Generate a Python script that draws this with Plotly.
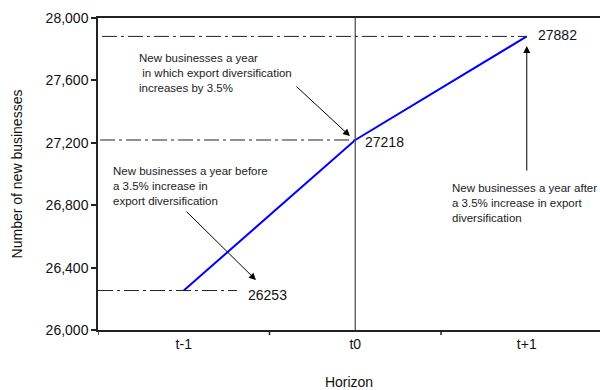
import plotly.graph_objects as go

# Impulse response: new businesses per year around a 3.5% rise in export diversification
horizon = ["t-1", "t0", "t+1"]
new_businesses = [26253, 27218, 27882]
y_tick_values = [26000, 26400, 26800, 27200, 27600, 28000]

note_texts = [
    "New businesses a year<br> in which export diversification<br>increases by 3.5%",
    "New businesses a year before<br>a 3.5% increase in<br>export diversification",
    "New businesses a year after<br>a 3.5% increase in export<br>diversification",
]
# top-left anchor of each note (category index, value)
note_x = [-0.273, -0.424, 1.555]
note_y = [27792, 27068, 26960]

# arrow tips (category index, value) and tail offsets in pixels
arrow_x = [0.969, 0.421, 2.0]
arrow_y = [27243, 26320, 27820]
arrow_ax = [-55, -71, 0]
arrow_ay = [-51, -70, 126]

# how far each value guide extends (category index) and label offsets in pixels
guide_start = [-0.5, -0.488, -0.477]
label_xshift = [62, 8, 9]
label_yshift = [-4, -2, 1]

FONT = "Liberation Sans, Arial, sans-serif"
AXIS_COLOR = "#222222"
DASH = "15px,4px,3px,4px"

fig = go.Figure()

fig.add_trace(go.Scatter(
    x=list(range(len(horizon))),
    y=new_businesses,
    mode="lines",
    line=dict(color="#0000FF", width=2),
    hoverinfo="skip",
    showlegend=False,
))

shapes = []
# vertical reference at t0
shapes.append(dict(type="line", xref="x", yref="y", x0=1, x1=1,
                   y0=y_tick_values[0], y1=y_tick_values[-1],
                   line=dict(color="#555555", width=1.3)))
# dash-dot guides from the y axis to each value
for i, v in enumerate(new_businesses):
    end = 0.31 if i == 0 else i
    shapes.append(dict(type="line", xref="x", yref="y",
                       x0=guide_start[i], x1=end, y0=v, y1=v,
                       line=dict(color="#222222", width=1, dash=DASH)))

annotations = []
for i, v in enumerate(new_businesses):
    annotations.append(dict(
        x=i, y=v, xref="x", yref="y", text=str(v), showarrow=False,
        xanchor="left", yanchor="middle", xshift=label_xshift[i], yshift=label_yshift[i],
        font=dict(family=FONT, size=14, color="#111111"),
    ))
for t, x, y in zip(note_texts, note_x, note_y):
    annotations.append(dict(
        x=x, y=y, xref="x", yref="y", text=t, showarrow=False,
        xanchor="left", yanchor="top", align="left",
        font=dict(family=FONT, size=11.5, color="#222222"),
    ))
for x, y, ax, ay in zip(arrow_x, arrow_y, arrow_ax, arrow_ay):
    annotations.append(dict(
        x=x, y=y, xref="x", yref="y", text="", showarrow=True,
        ax=ax, ay=ay, arrowhead=2, arrowsize=1.4, arrowwidth=1,
        arrowcolor="#000000", standoff=0, startstandoff=0,
    ))

fig.update_layout(
    width=600, height=390,
    margin=dict(l=98, r=0, t=18, b=60),
    paper_bgcolor="white", plot_bgcolor="white",
    font=dict(family=FONT, size=14, color="#111111"),
    shapes=shapes,
    annotations=annotations,
    showlegend=False,
)

fig.update_xaxes(
    tickmode="array",
    tickvals=list(range(len(horizon))),
    ticktext=horizon,
    range=[-0.5, 2.427],
    showgrid=False, zeroline=False,
    showline=True, linecolor=AXIS_COLOR, linewidth=1.5, mirror=True,
    ticks="",
    title=dict(text="Horizon", standoff=27, font=dict(size=14)),
    tickfont=dict(size=14),
    automargin=False,
)
fig.update_yaxes(
    range=[y_tick_values[0], y_tick_values[-1]],
    tickvals=y_tick_values,
    tickformat=",",
    showgrid=False, zeroline=False,
    showline=True, linecolor=AXIS_COLOR, linewidth=1.5,
    ticks="outside", ticklen=5, tickcolor=AXIS_COLOR, tickwidth=1.5,
    title=dict(text="Number of new businesses", standoff=20, font=dict(size=14)),
    tickfont=dict(size=14),
    automargin=False,
)

# x ticks sit on the category boundaries
for b in [-0.5, 0.5, 1.5]:
    fig.add_shape(type="line", xref="x", yref="paper", x0=b, x1=b, y0=0, y1=-0.016,
                  line=dict(color=AXIS_COLOR, width=1.5))

fig.write_html("out.html")
